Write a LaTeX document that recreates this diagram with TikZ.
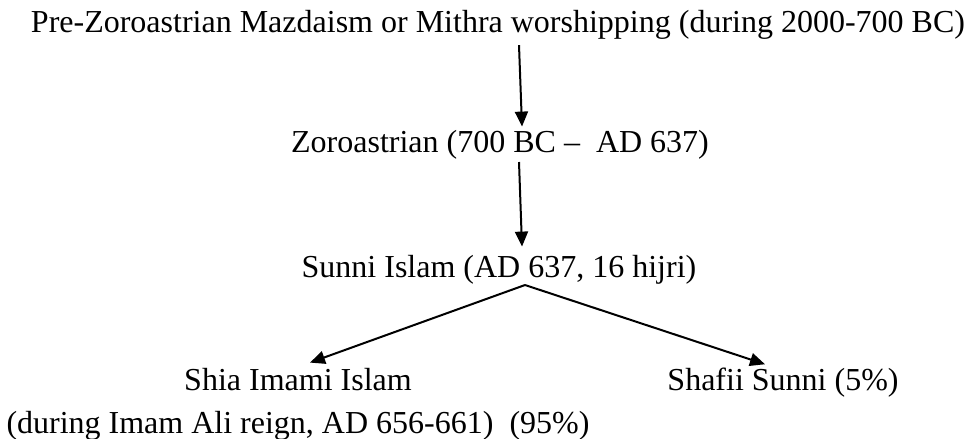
\documentclass[tikz,border=0pt]{standalone}
\usepackage{fontspec}
\setmainfont{Liberation Serif}
\usetikzlibrary{arrows.meta}
\tikzset{
  lbl/.style={inner sep=3pt, font=\fontsize{32}{43}\selectfont},
  arr/.style={line width=2pt, -{Triangle[length=15pt,width=13pt]}}
}

\begin{document}
\begin{tikzpicture}[x=1pt,y=-1pt]
  \useasboundingbox (0,0) rectangle (972,439);

%labels:
  \node[lbl,anchor=base] (pre) at (498,32) {Pre-Zoroastrian Mazdaism or Mithra worshipping (during 2000-700 BC)};
  \node[lbl,anchor=base] (zoro) at (500,152) {Zoroastrian (700 BC --\ \ AD 637)};
  \node[lbl,anchor=base] (sunni) at (499,277) {Sunni Islam (AD 637, 16 hijri)};
  \node[lbl,anchor=base,align=center] (shia) at (298,433) {Shia Imami Islam\\(during Imam Ali reign, AD 656-661)\ \ (95\%)};
  \node[lbl,anchor=base] (shafii) at (783,390) {Shafii Sunni (5\%)};
%%%%%%

  \draw[arr] ([xshift=21pt,yshift=-3pt]pre.south) -- ([xshift=22pt]zoro.north);
  \draw[arr] ([xshift=19pt]zoro.south) -- ([xshift=23pt,yshift=5pt]sunni.north);
  \draw[arr] ([xshift=26pt,yshift=2pt]sunni.south) coordinate (apex) -- ([xshift=12pt,yshift=2pt]shia.north);
  \draw[arr] (apex) -- ([xshift=-18pt]shafii.north);
\end{tikzpicture}
\end{document}
